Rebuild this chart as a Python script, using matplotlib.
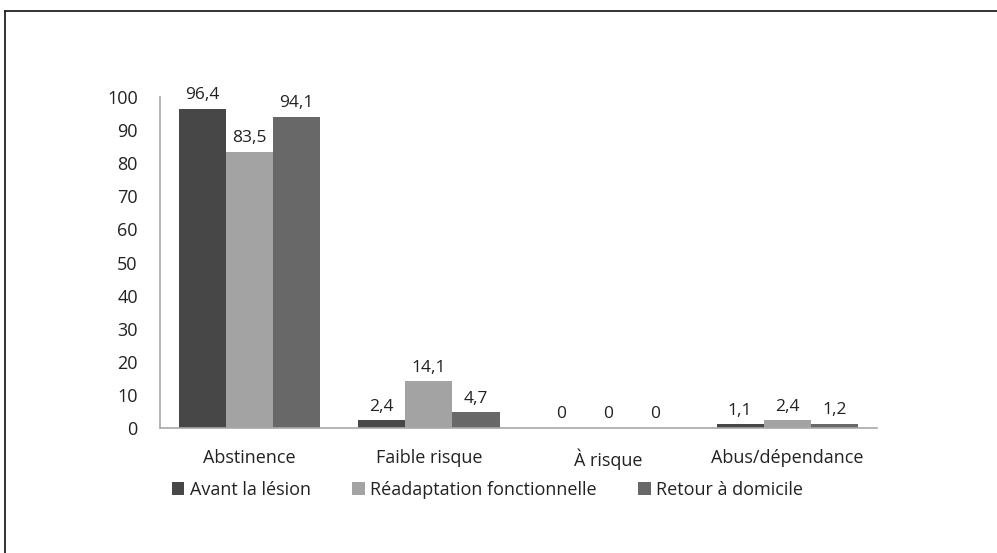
import numpy as np
from matplotlib import pyplot as plt
from matplotlib.lines import Line2D

categories = ["Abstinence", "Faible risque", "À risque", "Abus/dépendance"]
series_names = ["Avant la lésion", "Réadaptation fonctionnelle", "Retour à domicile"]
avant = [96.4, 2.4, 0, 1.1]
readapt = [83.5, 14.1, 0, 2.4]
retour = [94.1, 4.7, 0, 1.2]
yticks = [0, 10, 20, 30, 40, 50, 60, 70, 80, 90, 100]

colors = ["#474747", "#a3a3a3", "#686868"]

plt.rcParams["font.family"] = ["Open Sans", "DejaVu Sans"]

fig = plt.figure(figsize=(9.97, 5.53), dpi=100)
ax = fig.add_axes([0.1605, 0.226, 0.719, 0.5985])

x = np.arange(len(categories))
w = 0.263
for i, (vals, name) in enumerate(zip([avant, readapt, retour], series_names)):
    pos = x + (i - 1) * w
    bars = ax.bar(pos, vals, width=w, color=colors[i], label=name)
    for b, v in zip(bars, vals):
        txt = ("%g" % v).replace(".", ",")
        ax.annotate(txt, (b.get_x() + b.get_width() / 2, v),
                    xytext=(0, 4), textcoords="offset points",
                    ha="center", va="bottom", fontsize=12.5, color="#222222")

ax.set_xlim(-0.5, len(categories) - 0.5)
ax.set_ylim(0, 100)
ax.set_yticks(yticks)
ax.set_xticks(x)
ax.set_xticklabels(categories, fontsize=13)
ax.tick_params(axis="y", length=0, pad=16, labelsize=13, colors="#222222")
ax.tick_params(axis="x", length=0, pad=15, colors="#222222")
for s in ["top", "right"]:
    ax.spines[s].set_visible(False)
for s in ["left", "bottom"]:
    ax.spines[s].set_color("#a8a8a8")
    ax.spines[s].set_linewidth(1.2)

leg = fig.legend(loc="center", bbox_to_anchor=(0.489, 0.114), ncol=3,
                 frameon=False, fontsize=13, handlelength=0.7, handleheight=0.7,
                 handletextpad=0.3, columnspacing=2.3)
for t in leg.get_texts():
    t.set_color("#222222")

# outer frame lines (top and left)
fig.add_artist(Line2D([0.005, 1.0], [1 - 11 / 553, 1 - 11 / 553], color="#222222", lw=1.3))
fig.add_artist(Line2D([0.005, 0.005], [0, 1 - 11 / 553], color="#222222", lw=1.3))

fig.savefig("out.png", dpi=100)
